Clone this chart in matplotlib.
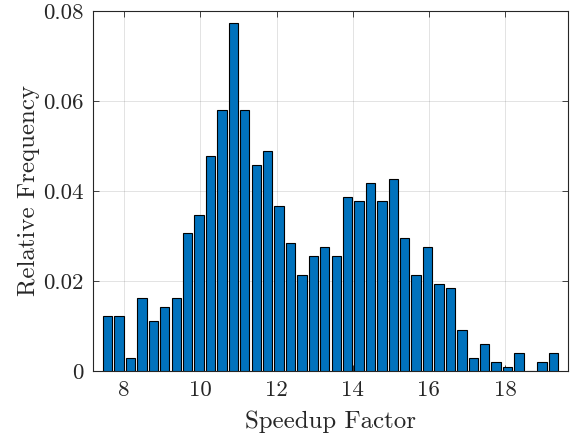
import matplotlib
matplotlib.use("Agg")
import matplotlib.pyplot as plt
import numpy as np

# Bin centers (Speedup Factor), bin width 0.3
first_center = 7.567
bin_width = 0.3
rel_freq = [0.0122, 0.0122, 0.0030, 0.0163, 0.0112, 0.0143, 0.0163, 0.0306,
            0.0347, 0.0479, 0.0581, 0.0775, 0.0581, 0.0459, 0.0490, 0.0367,
            0.0285, 0.0214, 0.0255, 0.0275, 0.0255, 0.0387, 0.0377, 0.0418,
            0.0377, 0.0428, 0.0295, 0.0214, 0.0275, 0.0193, 0.0184, 0.0091,
            0.0030, 0.0061, 0.0020, 0.0010, 0.0041, 0.0, 0.0020, 0.0041]
centers = first_center + bin_width * np.arange(len(rel_freq))

xticks = [8, 10, 12, 14, 16, 18]
yticks = [0, 0.02, 0.04, 0.06, 0.08]
ytick_labels = ["0", "0.02", "0.04", "0.06", "0.08"]

plt.rcParams['font.family'] = ['cmr10', 'DejaVu Serif']
plt.rcParams['mathtext.fontset'] = 'cm'
plt.rcParams['axes.unicode_minus'] = False
plt.rcParams['axes.formatter.use_mathtext'] = True

fig = plt.figure(figsize=(5.73, 4.41), dpi=100)
ax = fig.add_axes([93.3/573, 1 - 371/441, (567.7 - 93.3)/573, (371 - 11.3)/441])

ax.bar(centers, rel_freq, width=bin_width * 0.82, color='#0072BD',
       edgecolor='black', linewidth=0.8, zorder=3)

ax.set_xlim(7.19, 19.645)
ax.set_ylim(0, 0.08)
ax.set_xticks(xticks)
ax.set_xticklabels([str(t) for t in xticks])
ax.set_yticks(yticks)
ax.set_yticklabels(ytick_labels)

ax.grid(True, color='#262626', alpha=0.15, linewidth=0.6, zorder=0)
ax.set_axisbelow(True)

axis_color = '#262626'
for s in ax.spines.values():
    s.set_color(axis_color)
    s.set_linewidth(0.8)
ax.tick_params(direction='in', length=4, width=0.6, colors=axis_color,
               top=True, right=True, labelsize=16.5, labelcolor='#262626', pad=7)

# Axis labels placed in figure pixel coordinates
fig.text(330.5, 441 - 428, 'Speedup Factor', fontsize=17.9, color='#262626',
         ha='center', va='baseline', transform=None)
fig.text(35, 441 - 190.5, 'Relative Frequency', fontsize=17.9, color='#262626',
         ha='center', va='baseline', rotation=90, rotation_mode='anchor',
         transform=None)

fig.savefig('out.png', dpi=100)
